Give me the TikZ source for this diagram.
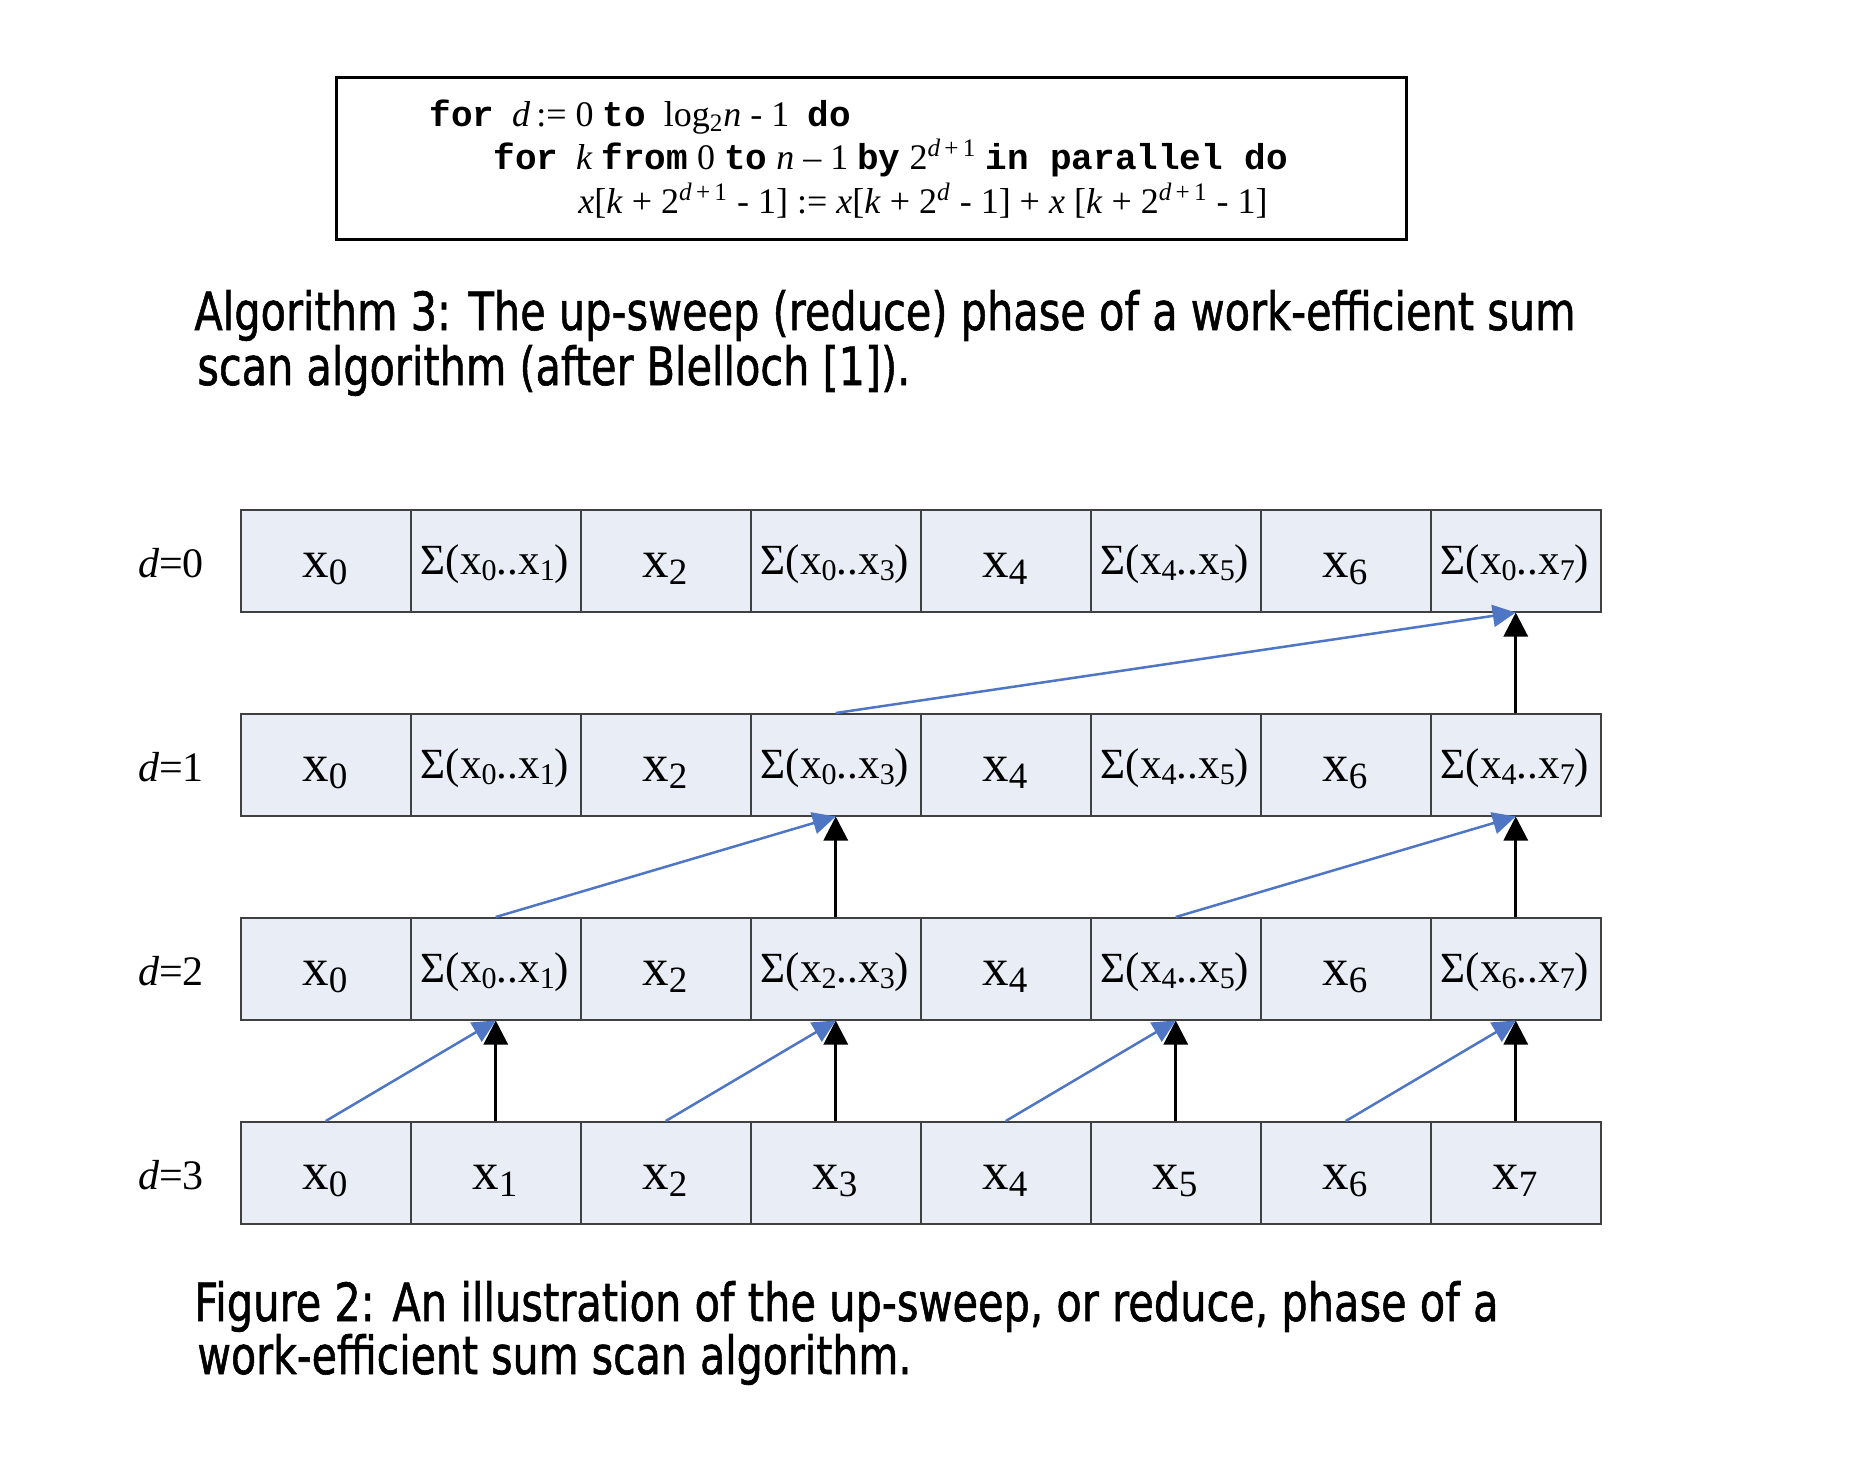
\documentclass[tikz,border=0pt]{standalone}
\usepackage{fontspec}
\setmainfont{Liberation Serif}
\newfontfamily\capfont{DejaVu Sans}[FakeBold=1.2]
\newfontfamily\codefont{Liberation Mono}
\usetikzlibrary{arrows.meta}
\definecolor{cellfill}{RGB}{233,237,245}
\definecolor{cellline}{RGB}{64,64,64}
\definecolor{arrblue}{RGB}{79,118,196}
\newcommand\subx[1]{\raisebox{-0.15em}{\scalebox{0.7}{#1}}}
\newcommand\bx[1]{{\fontsize{26.5pt}{26pt}\selectfont x\subx{#1}}}
\newcommand\sg[2]{{\fontsize{21.5pt}{22pt}\selectfont\raisebox{1.5pt}{Σ(x\subx{#1}..x\subx{#2})}}}
\newcommand\kw[1]{{\codefont\bfseries #1}}
\begin{document}
\begin{tikzpicture}[x=0.5pt,y=-0.5pt,
  cellbox/.style={draw=cellline, line width=0.75pt, fill=cellfill, minimum width=85pt, minimum height=51pt, inner sep=0pt, anchor=north west},
  celltext/.style={anchor=base, inner sep=0pt},
  blk/.style={draw=black, line width=1.5pt, -{Triangle[length=12pt,width=12pt]}},
  blu/.style={draw=arrblue, line width=1.25pt, -{Triangle[length=11.5pt,width=11pt]}},
  capline/.style={anchor=base west, inner sep=0pt},
  codeline/.style={anchor=base west, inner sep=0pt, font=\fontsize{18pt}{20pt}\selectfont}
]
\fill[white] (0,0) rectangle (1864,1458);
\path[use as bounding box] (0,0) rectangle (1864,1458);

% algorithm box
\node[draw, line width=1.3pt, minimum width=535pt, minimum height=81pt, anchor=north west, inner sep=0pt] (algbox) at (335,76) {};
\node[codeline] (l1) at (429,126) {\kw{for}\ \ \textit{d}\,:= 0 \kw{to}\ \ log\textsubscript{2}\textit{n} - 1\ \ \kw{do}};
\node[codeline] (l2) at (493,169) {\kw{for}\ \ \textit{k} \kw{from} 0 \kw{to} \textit{n} – 1 \kw{by} 2\textsuperscript{\textit{d}\,+\,1} \kw{in parallel do}};
\node[codeline] (l3) at (578,213) {\textit{x}[\textit{k} + 2\textsuperscript{\textit{d}\,+\,1} - 1] := \textit{x}[\textit{k} + 2\textsuperscript{\textit{d}} - 1] + \textit{x} [\textit{k} + 2\textsuperscript{\textit{d}\,+\,1} - 1]};

% captions
\node[capline] (cap1) at (194,330) {\resizebox{690.5pt}{20pt}{\capfont Algorithm 3: The up-sweep (reduce) phase of a work-efficient sum}};
\node[capline] (cap2) at (197,385) {\resizebox{356.5pt}{20pt}{\capfont scan algorithm (after Blelloch [1]).}};
\node[capline] (fig1) at (194,1321) {\resizebox{652pt}{20pt}{\capfont Figure 2: An illustration of the up-sweep, or reduce, phase of a}};
\node[capline] (fig2) at (197,1374) {\resizebox{357pt}{20pt}{\capfont work-efficient sum scan algorithm.}};

% cells
\foreach \r/\items in {
  0/{{\bx0},{\sg01},{\bx2},{\sg03},{\bx4},{\sg45},{\bx6},{\sg07}},
  1/{{\bx0},{\sg01},{\bx2},{\sg03},{\bx4},{\sg45},{\bx6},{\sg47}},
  2/{{\bx0},{\sg01},{\bx2},{\sg23},{\bx4},{\sg45},{\bx6},{\sg67}},
  3/{{\bx0},{\bx1},{\bx2},{\bx3},{\bx4},{\bx5},{\bx6},{\bx7}}} {
  \node[anchor=base, inner sep=0pt] (dl\r) at (171,{509+204*\r+68}) {\fontsize{21pt}{21pt}\selectfont\textit{d}=\r};
  \foreach \txt [count=\i from 0] in \items {
    \node[cellbox] (c\r-\i) at ({240+170*\i},{509+204*\r}) {};
    \node[celltext] (t\r-\i) at ({325+170*\i},{509+204*\r+68}) {\txt};
  }
}

% black arrows
\foreach \r/\s/\i in {3/2/1,3/2/3,3/2/5,3/2/7,2/1/3,2/1/7,1/0/7}
  \draw[blk] (c\r-\i.north) -- (c\s-\i.south);
% blue arrows
\foreach \r/\s/\a/\b in {3/2/0/1,3/2/2/3,3/2/4/5,3/2/6/7,2/1/1/3,2/1/5/7,1/0/3/7}
  \draw[blu] (c\r-\a.north) -- (c\s-\b.south);
\end{tikzpicture}
\end{document}
